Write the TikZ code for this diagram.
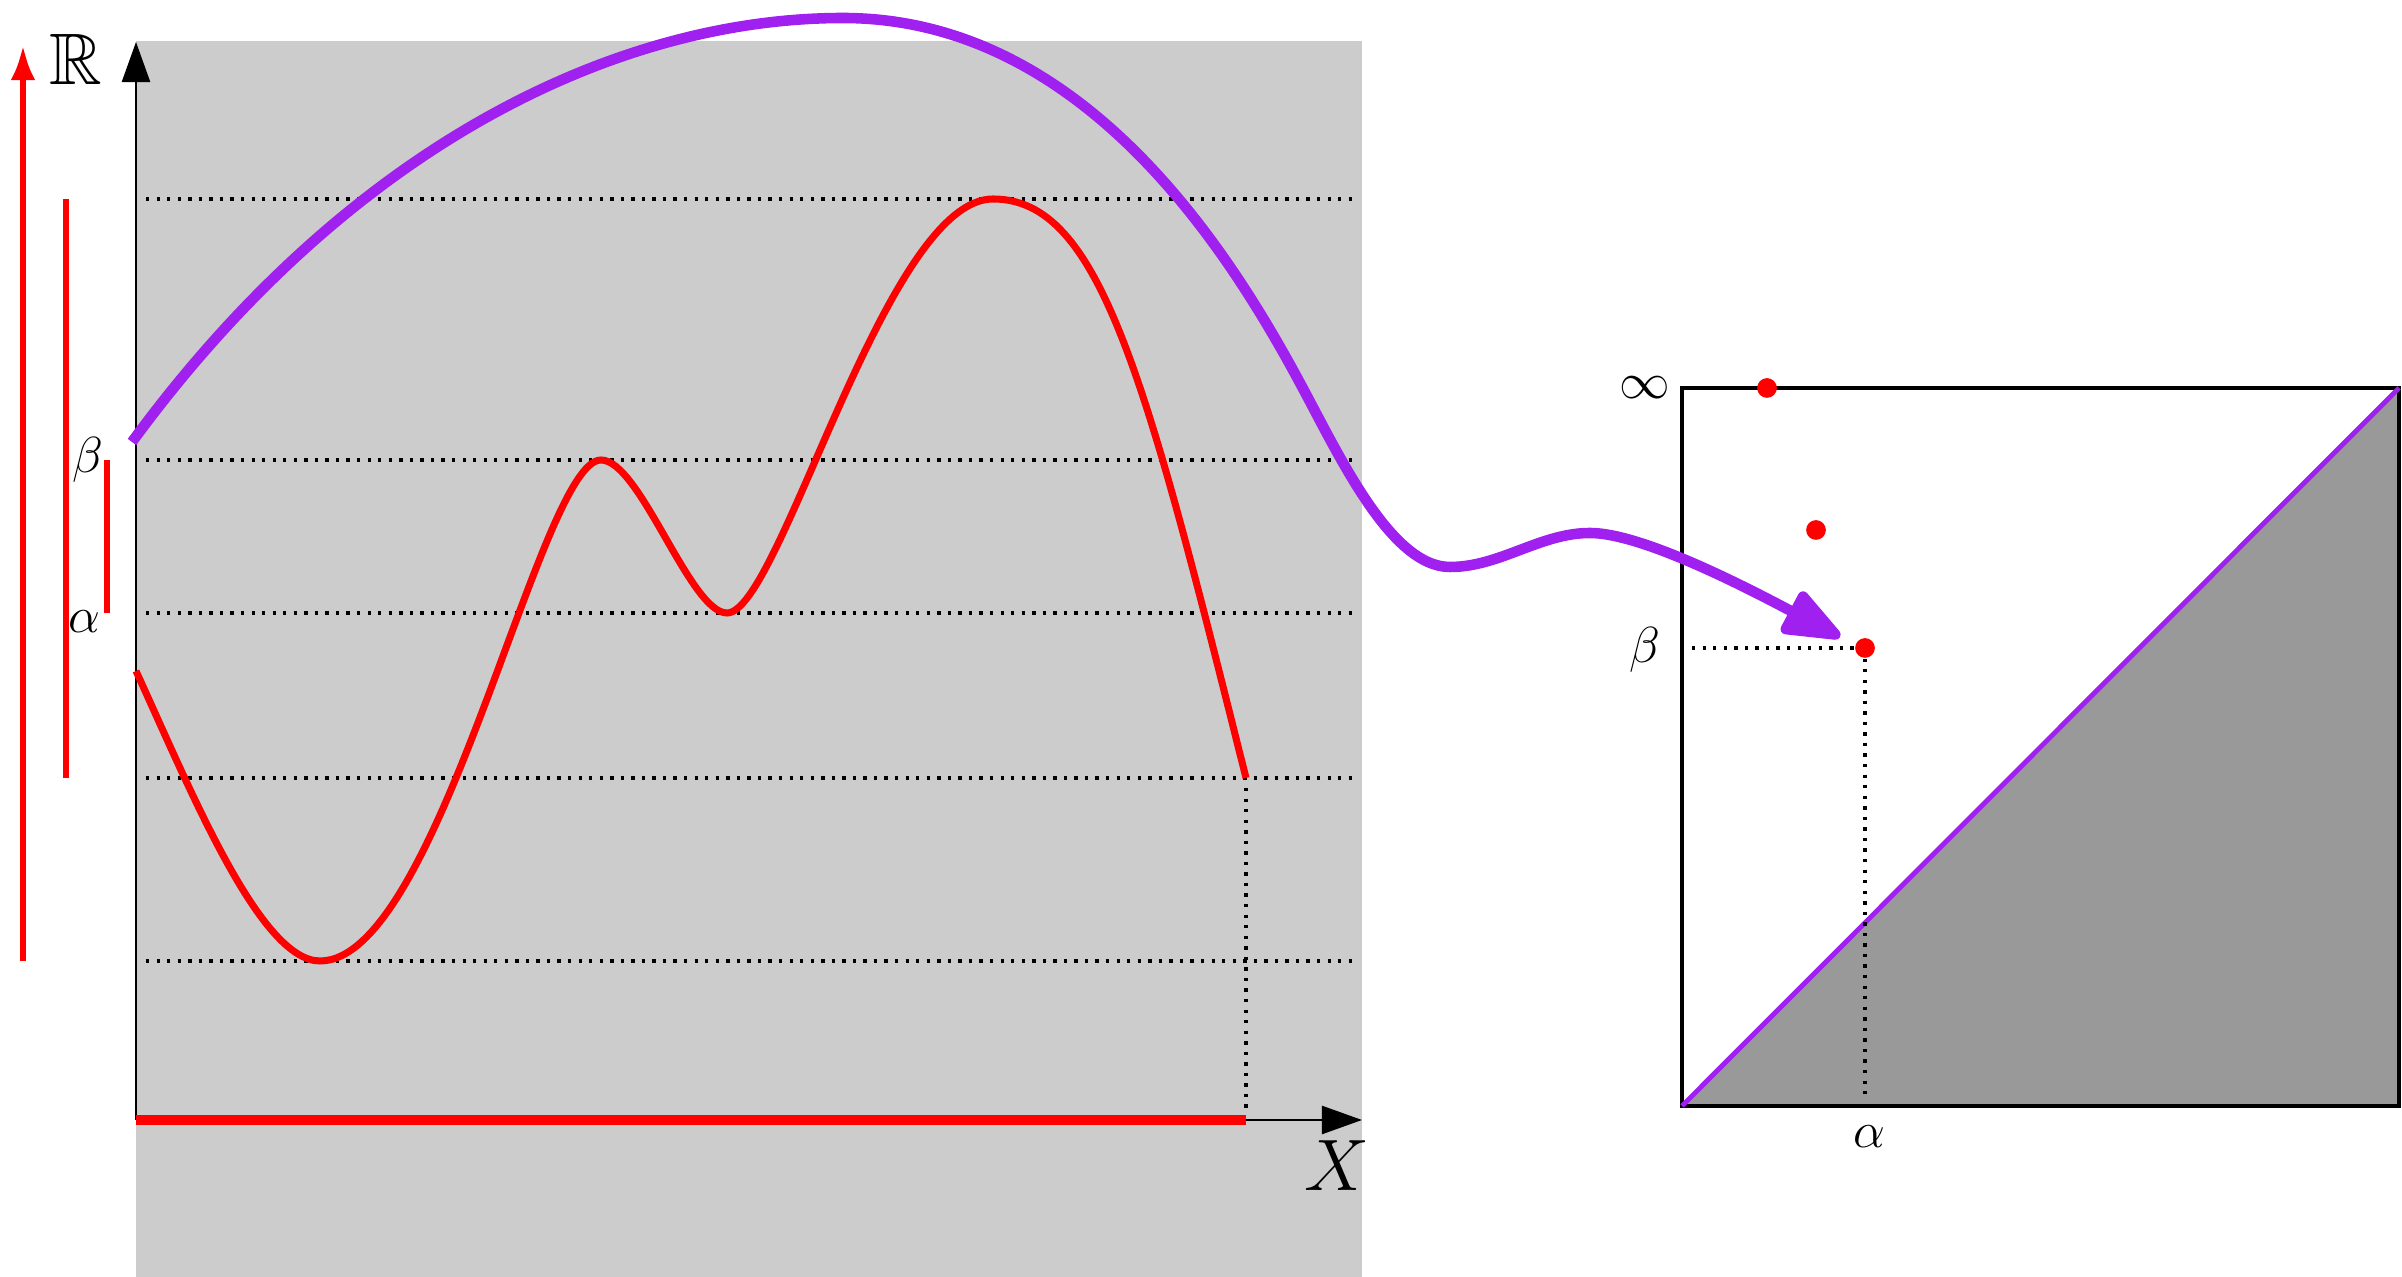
\documentclass[tikz,border=0pt]{standalone}
\usepackage{amssymb}
\usetikzlibrary{arrows.meta}
\definecolor{FuncClr}{rgb}{1,0,0}
\definecolor{MapClr}{rgb}{0.627,0.125,0.941}
\definecolor{DomClr}{rgb}{0.8,0.8,0.8}
\definecolor{LowClr}{rgb}{0.6,0.6,0.6}

\begin{document}
\begin{tikzpicture}[x=0.01cm,y=0.01cm,
  dotline/.style={line width=0.95pt,dash pattern=on 0.95pt off 2.05pt},
  axis/.style={line width=0.6pt,-{Triangle[length=11.4pt,width=8pt]}},
  func/.style={FuncClr,line width=2pt},
  bar/.style={FuncClr,line width=1.8pt},
  diagpt/.style={circle,fill=FuncClr,inner sep=0pt,minimum size=5.6pt},
  lbl/.style={inner sep=0pt,font=\fontsize{13.5pt}{16pt}\selectfont}]
\useasboundingbox (0,0) rectangle (2402,-1277);

% domain X x R
\fill[DomClr] (136,-41) rectangle (1362,-1277);
\foreach \h in {199,460,613,778,961}
  \draw[dotline] (146,-\h) -- (1358,-\h);

\coordinate (O) at (136,-1120);
\coordinate (Ytip) at (136,-42);
\coordinate (Xtip) at (1362,-1120);
\coordinate (Fend) at (1246,-778);
\coordinate (Xend) at (1246,-1120);

\draw[dotline] (1246,-788) -- (1246,-1115);
\draw[axis] (O) -- (Ytip);
\draw[axis] (O) -- (Xtip);

% the function
\draw[func] (136,-671) .. controls (191,-791) and (260,-961) .. (320,-961)
  .. controls (440,-961) and (540,-460) .. (601,-460)
  .. controls (640,-460) and (690,-613) .. (727,-613)
  .. controls (780,-613) and (885,-199) .. (993,-199)
  .. controls (1100,-199) and (1145,-375) .. (Fend);
\draw[FuncClr,line width=2.8pt] (O) -- (Xend);

% bars on R
\draw[bar,-{Latex[length=10pt,width=7pt]}] (23,-961) -- (23,-45);
\draw[bar] (66,-199) -- (66,-778);
\draw[bar] (107,-460) -- (107,-613);

\node[font=\huge,inner sep=0pt] (R) at (76,-59) {$\mathbb{R}$};
\node[font=\huge,inner sep=0pt] (X) at (1337,-1166) {$X$};
\node[lbl] (b1) at (88,-460) {$\beta$};
\node[lbl] (a1) at (84,-622) {$\alpha$};

% diagram
\coordinate (BL) at (1682,-1106);
\coordinate (BR) at (2399,-1106);
\coordinate (TR) at (2399,-388);
\coordinate (TL) at (1682,-388);
\fill[LowClr] (BL) -- (BR) -- (TR) -- cycle;
\draw[line width=1pt] (BL) rectangle (TR);
\draw[MapClr,line width=1.4pt] (BL) -- (TR);

\node[diagpt] (D1) at (1767,-388) {};
\node[diagpt] (D2) at (1816,-530) {};
\node[diagpt] (D3) at (1865,-648) {};
\draw[dotline] (1692,-648) -- (D3.west);
\draw[dotline] (D3.south) -- (1865,-1100);

\node[lbl] (inf) at (1645,-388) {$\infty$};
\node[lbl] (b2) at (1645,-650) {$\beta$};
\node[lbl] (a2) at (1869,-1137) {$\alpha$};

% the map
\coordinate (M0) at (132,-442);
\coordinate (M1) at (1840,-637);
\draw[MapClr,line width=3pt,-{Triangle[length=19pt,width=14pt,round]}]
  (M0) .. controls (352,-142) and (620,-18) .. (843,-18)
  .. controls (1083,-18) and (1229,-251) .. (1300,-383)
  .. controls (1338,-453) and (1390,-567) .. (1450,-567)
  .. controls (1500,-567) and (1540,-533) .. (1590,-533)
  .. controls (1640,-533) and (1740,-584) .. (M1);
\end{tikzpicture}
\end{document}
